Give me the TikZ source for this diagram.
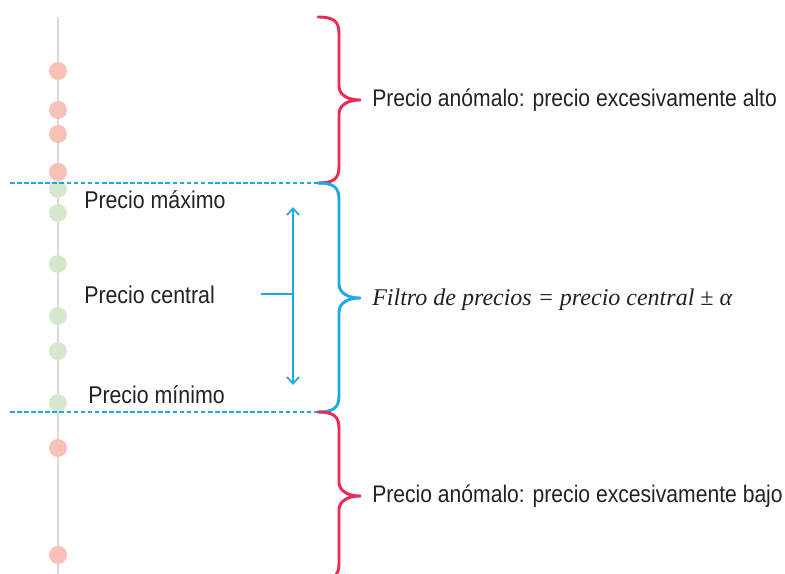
\documentclass[tikz,border=0pt]{standalone}
\usepackage{fontspec}
\setsansfont{Liberation Sans}[FakeStretch=0.88]
\newfontfamily\formfont{Liberation Serif}
\usetikzlibrary{arrows.meta}
\definecolor{bred}{HTML}{EC2A52}
\definecolor{bblue}{HTML}{1DAAE2}
\definecolor{dred}{HTML}{F8C1B8}
\definecolor{dgreen}{HTML}{D5E8CD}
\definecolor{axisgray}{HTML}{D9D9D9}
\definecolor{txt}{HTML}{222222}
\begin{document}
\begin{tikzpicture}[x=0.75pt,y=-0.75pt,
  big/.style={font=\sffamily\fontsize{18}{20}\selectfont, text=txt, inner sep=0pt, anchor=west},
  small/.style={font=\sffamily\fontsize{18.2}{20}\selectfont, text=txt, inner sep=0pt, anchor=west},
  formula/.style={font=\formfont\itshape\fontsize{18}{20}\selectfont, text=txt, inner sep=0pt, anchor=west},
  rdot/.style={circle, fill=dred, minimum size=13.5pt, inner sep=0pt},
  gdot/.style={circle, fill=dgreen, minimum size=13.5pt, inner sep=0pt},
  bracestyle/.style={line width=2.2pt, line cap=round, line join=round},
  limit/.style={bblue, line width=0.8pt, dash pattern=on 3.5pt off 1.8pt},
  arrowline/.style={bblue, line width=1.3pt},
]
\useasboundingbox (0,0) rectangle (785,574);
% axis
\coordinate (axT) at (58,17);
\coordinate (axB) at (58,574);
\draw[axisgray, line width=1.5pt] (axT) -- (axB);
% dots
\node[rdot] (r1) at (58,71) {};
\node[rdot] (r2) at (58,110) {};
\node[rdot] (r3) at (58,134) {};
\node[rdot] (r4) at (58,172) {};
\node[gdot] (g1) at (58,189) {};
\node[gdot] (g2) at (58,213) {};
\node[gdot] (g3) at (58,264) {};
\node[gdot] (g4) at (58,316) {};
\node[gdot] (g5) at (58,351) {};
\node[gdot] (g6) at (58,403) {};
\node[rdot] (r5) at (58,448) {};
\node[rdot] (r6) at (58,555) {};
% limit lines
\coordinate (l1a) at (10,183);
\coordinate (l1b) at (318,183);
\coordinate (l2a) at (10,412);
\coordinate (l2b) at (318,412);
\draw[limit] (l1a) -- (l1b);
\draw[limit] (l2a) -- (l2b);
% braces
\coordinate (b0) at (318,17);
\coordinate (b3) at (318,580);
\draw[bracestyle, bred] (b0) .. controls (333,17) and (339,21) .. (339,33) -- (339,86)
  .. controls (339,95) and (348,100) .. (360,100)
  .. controls (348,100) and (339,105) .. (339,114) -- (339,167)
  .. controls (339,179) and (333,183) .. (l1b);
\draw[bracestyle, bblue] (l1b) .. controls (333,183) and (339,187) .. (339,199) -- (339,284)
  .. controls (339,293) and (348,298) .. (360,298)
  .. controls (348,298) and (339,303) .. (339,312) -- (339,396)
  .. controls (339,408) and (333,412) .. (l2b);
\draw[bracestyle, bred] (l2b) .. controls (333,412) and (339,416) .. (339,428) -- (339,482)
  .. controls (339,491) and (348,496) .. (360,496)
  .. controls (348,496) and (339,501) .. (339,510) -- (339,564)
  .. controls (339,576) and (333,580) .. (b3);
% labels
\node[big] (hi) at (372,100) {Precio anómalo: precio excesivamente alto};
\node[formula] (filt) at (372,300) {Filtro de precios = precio central ± α};
\node[big] (lo) at (372,496) {Precio anómalo: precio excesivamente bajo};
\node[small] (pmax) at (84,200) {Precio máximo};
\node[small] (pcen) at (84,295) {Precio central};
\node[small] (pmin) at (88,395) {Precio mínimo};
% range arrow
\coordinate (aT) at (293,207);
\coordinate (aB) at (293,385);
\coordinate (aM) at (293,294);
\coordinate (hS) at (261,294);
\draw[arrowline, {Straight Barb[length=5pt,width=9pt]}-{Straight Barb[length=5pt,width=9pt]}] (aT) -- (aB);
\draw[arrowline] (hS) -- (aM);
\end{tikzpicture}
\end{document}
